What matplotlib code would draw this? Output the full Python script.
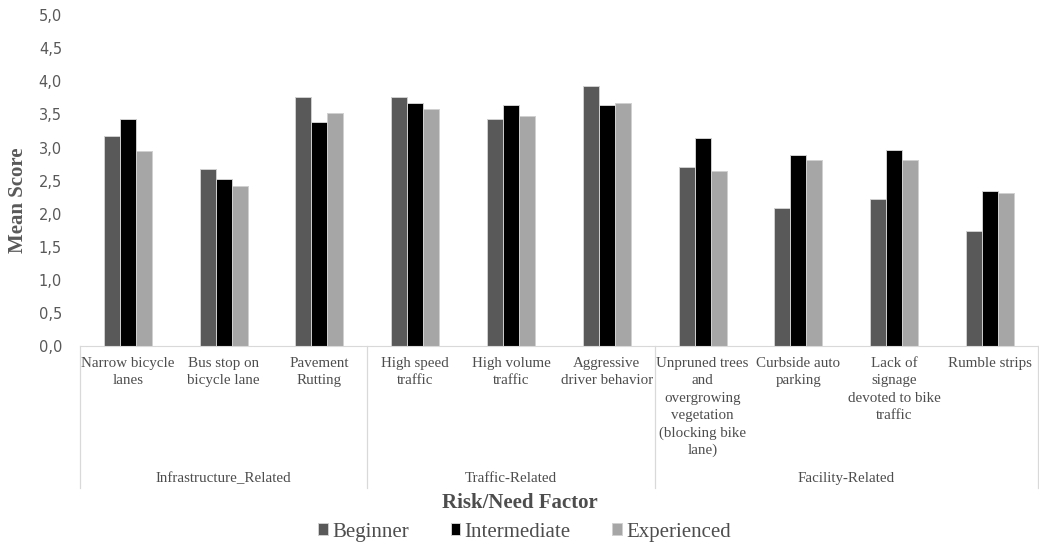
import numpy as np
import matplotlib
matplotlib.use("Agg")
import matplotlib.pyplot as plt
import matplotlib.transforms as mtransforms

# data
categories = ["Narrow bicycle\nlanes", "Bus stop on\nbicycle lane", "Pavement\nRutting",
              "High speed\ntraffic", "High volume\ntraffic", "Aggressive\ndriver behavior",
              "Unpruned trees\nand\novergrowing\nvegetation\n(blocking bike\nlane)",
              "Curbside auto\nparking", "Lack of\nsignage\ndevoted to bike\ntraffic",
              "Rumble strips"]
groups = ["Infrastructure_Related", "Traffic-Related", "Facility-Related"]
group_sizes = [3, 3, 4]
beginner = [3.17, 2.68, 3.77, 3.77, 3.43, 3.93, 2.70, 2.09, 2.22, 1.74]
intermediate = [3.43, 2.53, 3.38, 3.67, 3.64, 3.64, 3.14, 2.89, 2.97, 2.35]
experienced = [2.95, 2.42, 3.52, 3.58, 3.48, 3.67, 2.65, 2.81, 2.81, 2.32]
series = ["Beginner", "Intermediate", "Experienced"]
colors = ["#595959", "#000000", "#a6a6a6"]
yticks = [0, 0.5, 1, 1.5, 2, 2.5, 3, 3.5, 4, 4.5, 5]

serif = "Liberation Serif"
txt = "#4d4d4d"

fig = plt.figure(figsize=(10.39, 5.44), dpi=100)
ax = fig.add_axes([0.077, 0.364, 0.922, 0.608])

x = np.arange(len(categories))
w = 0.167
for i, (vals, name, c) in enumerate(zip([beginner, intermediate, experienced], series, colors)):
    ax.bar(x + (i - 1) * w, vals, w, color=c, label=name, edgecolor="#d0d0d0", linewidth=0.7)

ax.set_xlim(-0.5, len(categories) - 0.5)
ax.set_ylim(0, 5)
ax.set_yticks(yticks)
ax.set_yticklabels([f"{t:.1f}".replace(".", ",") for t in yticks], color="#595959", fontsize=10.5)
ax.tick_params(axis="y", length=0, pad=13)
ax.set_xticks([])
for s in ["top", "right", "left"]:
    ax.spines[s].set_visible(False)
ax.spines["bottom"].set_color("#d9d9d9")

trans = mtransforms.blended_transform_factory(ax.transData, ax.transAxes)
for xi, lab in zip(x, categories):
    ax.text(xi, -0.034, lab, transform=trans, ha="center", va="top", fontsize=10.8,
            family=serif, color=txt, linespacing=1.42, multialignment="center")

# group boxes
bounds = np.concatenate([[0], np.cumsum(group_sizes)]) - 0.5
for b in bounds:
    ax.plot([b, b], [0, -0.43], transform=trans, color="#d9d9d9", lw=0.9, clip_on=False)
for g, lo, hi in zip(groups, bounds[:-1], bounds[1:]):
    ax.text((lo + hi) / 2, -0.400, g, transform=trans, ha="center", va="center",
            fontsize=10.8, family=serif, color=txt)

fig.text(0.5, 0.075, "Risk/Need Factor", ha="center", va="center", fontsize=15,
         fontweight="bold", family=serif, color=txt)
fig.text(0.017, 0.632, "Mean Score", ha="center", va="center", rotation=90, fontsize=15,
         fontweight="bold", family=serif, color="#595959")

leg = fig.legend(loc="center", bbox_to_anchor=(0.505, 0.022), ncol=3, frameon=False,
                 handlelength=0.47, handleheight=0.47, handletextpad=0.2, columnspacing=2.0,
                 prop={"family": serif, "size": 15})
for t in leg.get_texts():
    t.set_color(txt)

fig.savefig("out.png", dpi=100)
